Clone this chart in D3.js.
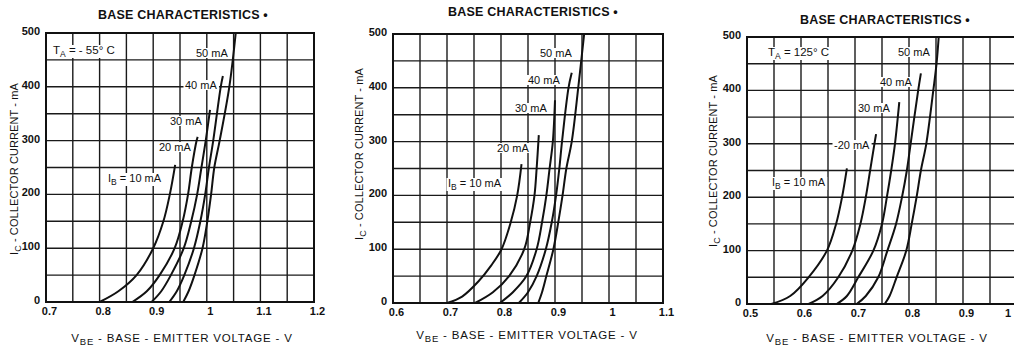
<!DOCTYPE html>
<html>
<head>
<meta charset="utf-8">
<script src="https://cdn.jsdelivr.net/npm/d3@7"></script>
<style>
  html, body { margin: 0; padding: 0; background: #fff; }
  svg { display: block; }
  text { font-family: "Liberation Sans", Arial, sans-serif; fill: #111; }
</style>
</head>
<body>
<svg id="chart" width="1014" height="348"></svg>
<script>
// ---- data (VBE in volts, IC in mA) ----
var ibLabels = ["10 mA", "20 mA", "30 mA", "40 mA", "50 mA"];
var yTicks = [0, 100, 200, 300, 400, 500];

// TA = -55 C
var curvesCold = [
	[[0.800,0],[0.835,20],[0.869,50],[0.900,100],[0.919,150],[0.931,200],[0.941,255]],
	[[0.861,0],[0.888,20],[0.912,50],[0.940,100],[0.955,150],[0.965,200],[0.972,250],[0.981,300],[0.983,307]],
	[[0.897,0],[0.915,20],[0.933,50],[0.957,100],[0.971,150],[0.982,200],[0.990,250],[0.998,300],[1.006,357]],
	[[0.930,0],[0.944,20],[0.958,50],[0.976,100],[0.988,150],[0.997,200],[1.004,250],[1.012,300],[1.026,400],[1.030,420]],
	[[0.956,0],[0.966,20],[0.977,50],[0.992,100],[1.001,150],[1.008,200],[1.014,250],[1.024,300],[1.042,400],[1.054,500]]
];
var xTicksCold = [0.7, 0.8, 0.9, 1, 1.1, 1.2];

// TA = 25 C (no temperature label on this plot)
var curvesRoom = [
	[[0.700,0],[0.728,12],[0.758,40],[0.782,70],[0.801,100],[0.818,150],[0.830,200],[0.838,258]],
	[[0.752,0],[0.785,20],[0.815,50],[0.843,100],[0.854,150],[0.862,200],[0.866,250],[0.870,312]],
	[[0.798,0],[0.822,20],[0.847,50],[0.866,100],[0.876,150],[0.884,200],[0.890,250],[0.896,300],[0.900,377]],
	[[0.833,0],[0.850,20],[0.866,50],[0.883,100],[0.894,150],[0.902,200],[0.908,250],[0.913,300],[0.925,400],[0.931,428]],
	[[0.869,0],[0.876,20],[0.884,50],[0.897,100],[0.906,150],[0.914,200],[0.921,250],[0.931,300],[0.943,400],[0.954,500]]
];
var xTicksRoom = [0.6, 0.7, 0.8, 0.9, 1, 1.1];

// TA = 125 C
var curvesHot = [
	[[0.545,0],[0.580,15],[0.614,50],[0.648,100],[0.665,150],[0.676,200],[0.685,254]],
	[[0.614,0],[0.640,15],[0.669,50],[0.695,100],[0.710,150],[0.720,200],[0.728,250],[0.736,300],[0.739,318]],
	[[0.666,0],[0.685,15],[0.706,50],[0.734,100],[0.750,150],[0.759,200],[0.767,250],[0.774,300],[0.782,378]],
	[[0.703,0],[0.720,15],[0.743,50],[0.760,100],[0.776,150],[0.787,200],[0.796,250],[0.803,300],[0.817,400],[0.822,432]],
	[[0.755,0],[0.764,15],[0.777,50],[0.795,100],[0.805,150],[0.814,200],[0.822,250],[0.832,300],[0.845,400],[0.851,450],[0.855,500]]
];
var xTicksHot = [0.5, 0.6, 0.7, 0.8, 0.9, 1];

// ---- layout of each panel (pixels) ----
var panels = [
	{
		curves: curvesCold, xTicks: xTicksCold, xDomain: [0.7, 1.2],
		left: 46, right: 314, top: 33, bottom: 302,
		titleX: 183, titleY: 19, xTitleX: 182, xTitleY: 342, yTitleX: 18, yTitleY: 169,
		temp: "- 55\u00b0 C", tempPos: [53, 54],
		labelPos: [[108, 182], [159, 151], [170, 125], [185, 89], [196, 57]]
	},
	{
		curves: curvesRoom, xTicks: xTicksRoom, xDomain: [0.6, 1.1],
		left: 393, right: 663, top: 34, bottom: 303,
		titleX: 533, titleY: 16, xTitleX: 527, xTitleY: 339, yTitleX: 363, yTitleY: 154,
		temp: null,
		labelPos: [[448, 187], [497, 152], [515, 112], [528, 84], [540, 57]]
	},
	{
		curves: curvesHot, xTicks: xTicksHot, xDomain: [0.5, 1.0],
		left: 747, right: 1017, top: 37, bottom: 304,
		titleX: 885, titleY: 24, xTitleX: 877, xTitleY: 342, yTitleX: 717, yTitleY: 161,
		temp: "125\u00b0 C", tempPos: [768, 56],
		labelPos: [[772, 186], [834, 149], [858, 112], [880, 86], [898, 56]]
	}
];

var svg = d3.select("#chart");

/* --------------------------------------------------------------------------
 * addSubText: write "X" + subscript + rest into a text element
 * ------------------------------------------------------------------------*/
function addSubText(textSel, main, sub, rest, subSize, shift)
{
	shift = shift || 3;
	textSel.append("tspan").text(main);
	textSel.append("tspan").attr("dy", shift).attr("font-size", subSize).text(sub);
	textSel.append("tspan").attr("dy", -shift).text(rest);
}

/* --------------------------------------------------------------------------
 * backLabel: put a white box behind a label so the grid is broken there
 * ------------------------------------------------------------------------*/
function backLabel(g, textSel)
{
	var bb = textSel.node().getBBox();
	g.insert("rect", function () { return textSel.node(); })
		.attr("x", bb.x - 1.5).attr("y", bb.y + 1)
		.attr("width", bb.width + 3).attr("height", bb.height - 2)
		.attr("fill", "#fff");
}

panels.forEach(function (p, pi)
{
	var x = d3.scaleLinear().domain(p.xDomain).range([p.left, p.right]);
	var y = d3.scaleLinear().domain([0, 500]).range([p.bottom, p.top]);
	var g = svg.append("g");

	// grid every 0.05 V and every 50 mA
	var xGrid = d3.range(0, 11).map(function (i) { return p.xDomain[0] + i * 0.05; });
	var yGrid = d3.range(0, 11).map(function (i) { return i * 50; });

	g.selectAll("line.vg").data(xGrid).enter().append("line")
		.attr("x1", function (d) { return x(d); }).attr("x2", function (d) { return x(d); })
		.attr("y1", p.top).attr("y2", p.bottom)
		.attr("stroke", "#1a1a1a").attr("stroke-width", 1.4);

	g.selectAll("line.hg").data(yGrid).enter().append("line")
		.attr("y1", function (d) { return y(d); }).attr("y2", function (d) { return y(d); })
		.attr("x1", p.left).attr("x2", p.right)
		.attr("stroke", "#1a1a1a").attr("stroke-width", 1.4);

	g.append("rect")
		.attr("x", p.left).attr("y", p.top)
		.attr("width", p.right - p.left).attr("height", p.bottom - p.top)
		.attr("fill", "none").attr("stroke", "#111").attr("stroke-width", 2);

	// axes (labels only, grid does the rest)
	var yAxis = d3.axisLeft(y).tickValues(yTicks).tickSize(0).tickPadding(6)
		.tickFormat(d3.format("d"));
	var ya = g.append("g").attr("transform", "translate(" + p.left + ",-2)").call(yAxis);
	ya.select(".domain").remove();
	ya.selectAll("text").attr("font-size", 11).attr("font-weight", "bold")
		.attr("font-family", "Liberation Sans, Arial, sans-serif").attr("fill", "#111");

	var xAxis = d3.axisBottom(x).tickValues(p.xTicks).tickSize(0).tickPadding(5)
		.tickFormat(function (d) { return d3.format("~g")(d); });
	var xa = g.append("g").attr("transform", "translate(3," + p.bottom + ")").call(xAxis);
	xa.select(".domain").remove();
	xa.selectAll("text").attr("font-size", 11).attr("font-weight", "bold")
		.attr("font-family", "Liberation Sans, Arial, sans-serif").attr("fill", "#111");
	// keep a label that would fall past the window edge inside it
	xa.selectAll(".tick").each(function ()
	{
		var bb = this.getBoundingClientRect();
		if (bb.right > 1012) {
			d3.select(this).select("text").attr("dx", -(bb.right - 1011));
		}
	});

	// curves
	var line = d3.line()
		.x(function (d) { return x(d[0]); })
		.y(function (d) { return y(d[1]); })
		.curve(d3.curveCatmullRom.alpha(0.5));

	g.selectAll("path.ib").data(p.curves).enter().append("path")
		.attr("d", line)
		.attr("fill", "none").attr("stroke", "#111").attr("stroke-width", 2);

	// curve labels
	ibLabels.forEach(function (lab, i)
	{
		var t = g.append("text")
			.attr("x", p.labelPos[i][0]).attr("y", p.labelPos[i][1])
			.attr("font-size", 11);
		if (i === 0) {
			addSubText(t, "I", "B", " = " + lab, 8.5);
		} else {
			t.text((pi === 2 && i === 1 ? "-" : "") + lab);
		}
		backLabel(g, t);
	});

	if (p.temp) {
		var tt = g.append("text")
			.attr("x", p.tempPos[0]).attr("y", p.tempPos[1])
			.attr("font-size", 11.5);
		addSubText(tt, "T", "A", " = " + p.temp, 8.5);
		backLabel(g, tt);
	}

	// titles
	g.append("text")
		.attr("x", p.titleX).attr("y", p.titleY)
		.attr("text-anchor", "middle").attr("font-size", 12.5).attr("font-weight", "bold")
		.attr("letter-spacing", 0.2)
		.text("BASE CHARACTERISTICS \u2022");

	var xt = g.append("text")
		.attr("x", p.xTitleX).attr("y", p.xTitleY)
		.attr("text-anchor", "middle").attr("font-size", 11.5).attr("letter-spacing", 0.8);
	addSubText(xt, "V", "BE", " - BASE - EMITTER VOLTAGE - V", 9.5, 2.5);

	var yt = g.append("text")
		.attr("transform", "translate(" + p.yTitleX + "," + p.yTitleY + ") rotate(-90)")
		.attr("text-anchor", "middle").attr("font-size", 11).attr("letter-spacing", 0.1);
	addSubText(yt, "I", "C", " - COLLECTOR CURRENT - mA", 9);
});
</script>
</body>
</html>
